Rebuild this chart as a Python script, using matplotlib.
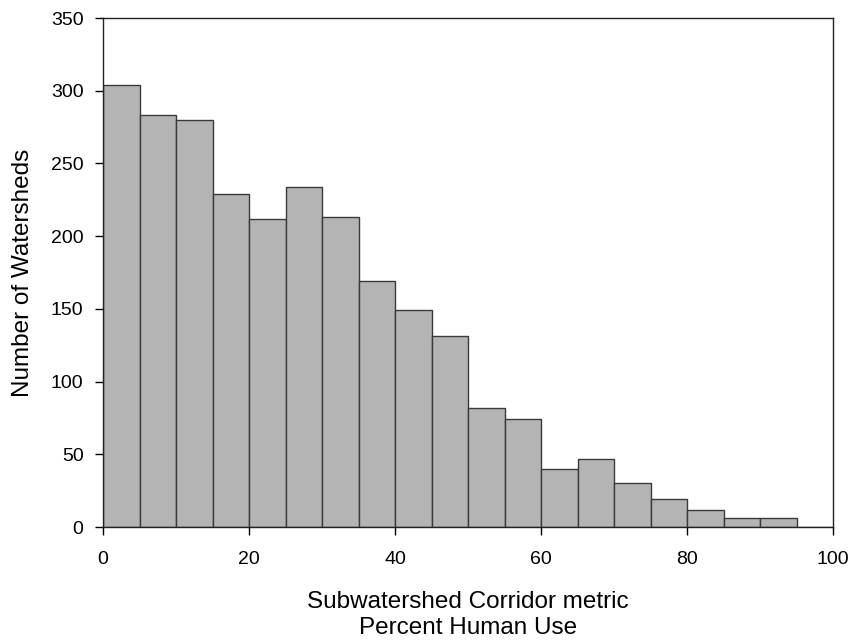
import matplotlib
matplotlib.use("Agg")
import matplotlib.pyplot as plt
import numpy as np

plt.rcParams['font.family'] = ['Liberation Sans', 'DejaVu Sans']

# histogram bins (percent human use) and counts per bin
bin_edges = list(range(0, 101, 5))
counts = [304, 283, 280, 229, 212, 234, 213, 169, 149, 131,
          82, 74, 40, 47, 30, 19, 12, 6, 6, 0]
x_ticks = [0, 20, 40, 60, 80, 100]
y_ticks = [0, 50, 100, 150, 200, 250, 300, 350]

fig = plt.figure(figsize=(8.53, 6.43), dpi=100)
ax = fig.add_axes([0.1208, 0.1804, 0.8558, 0.7916])

lefts = np.array(bin_edges[:-1])
widths = np.diff(bin_edges)
ax.bar(lefts, counts, width=widths, align="edge",
       color="#b4b4b4", edgecolor="#3a3a3a", linewidth=1.0)

ax.set_xlim(0, 100)
ax.set_ylim(0, 350)
ax.set_xticks(x_ticks)
ax.set_yticks(y_ticks)
ax.tick_params(direction="out", length=6, width=1, labelsize=14,
               colors="black")
ax.tick_params(axis="x", pad=11)
ax.tick_params(axis="y", pad=8)
ax.tick_params(top=False, right=False)

for s in ax.spines.values():
    s.set_linewidth(1.0)
    s.set_color("#222222")

ax.set_xlabel("Subwatershed Corridor metric\nPercent Human Use",
              fontsize=17.5, labelpad=17, linespacing=1.2)
ax.set_ylabel("Number of Watersheds", fontsize=17.5, labelpad=12)

fig.savefig("out.png", dpi=100)
